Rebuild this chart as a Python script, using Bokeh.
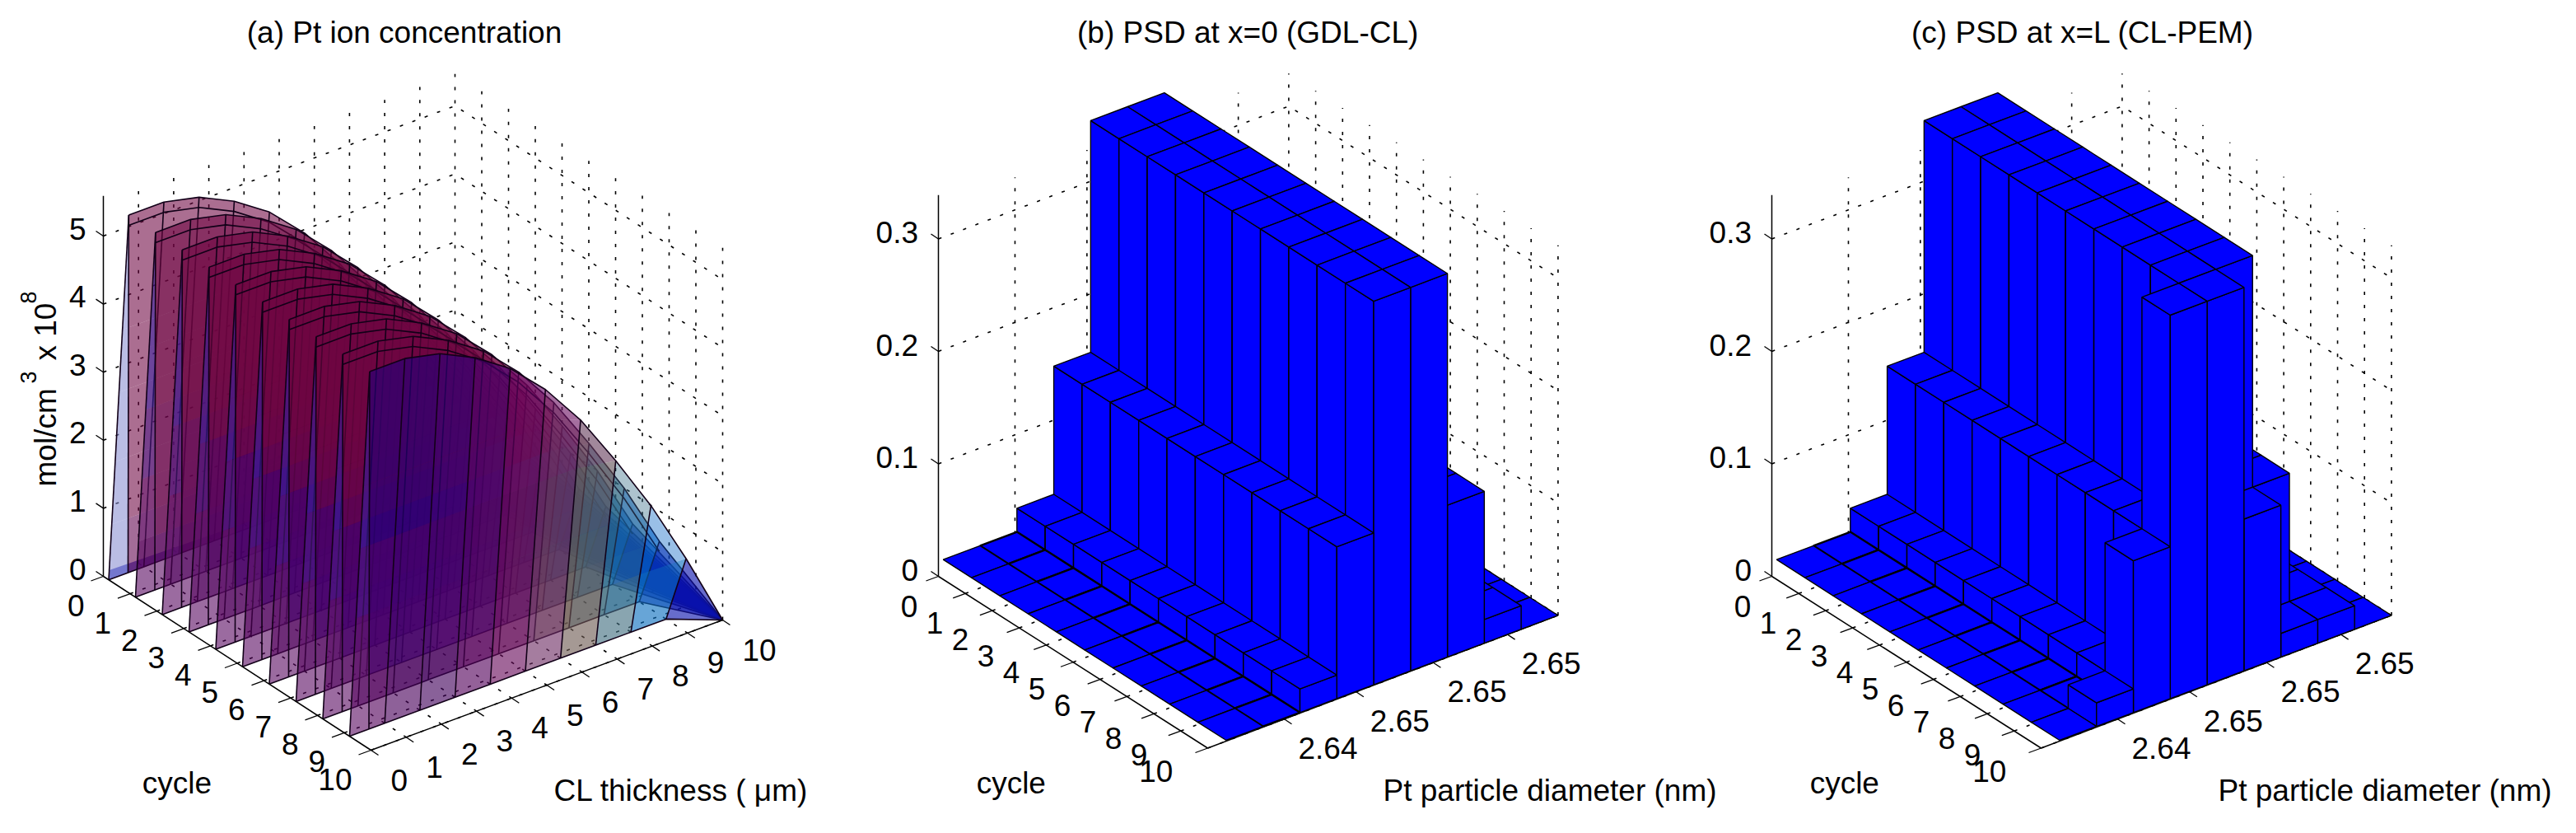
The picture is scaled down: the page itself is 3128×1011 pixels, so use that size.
from bokeh.plotting import figure
from bokeh.models import Range1d
from bokeh.core.properties import value
from bokeh.embed import file_html
from bokeh.resources import INLINE
import math

# ---------- data ----------
cycle_ticks = list(range(11))
thickness_ticks = list(range(11))
conc_ticks = [0, 1, 2, 3, 4, 5]
pt_ion_profile = [5.25, 5.25, 5.13, 4.88, 4.53, 4.03, 3.39, 2.60, 1.75, 0.78, 0.0]
sheet_cycles = [0.2, 1.2, 2.2, 3.2, 4.2, 5.2, 6.2, 7.2, 8.2, 9.2]

psd_ticks = [0, 0.1, 0.2, 0.3]
diam_tick_pos = [0.2186, 0.424, 0.644, 0.856]
diam_labels = ["2.64", "2.65", "2.65", "2.65"]
psd_row = [0, 0, 0.021, 0.135, 0.341, 0.341, 0.135, 0.021, 0]
psd_last_row_c = [0, 0.021, 0.135, 0.341, 0.341, 0.135, 0.021, 0.021, 0]
psd_b = [psd_row] * 10
psd_c = [psd_row] * 9 + [psd_last_row_c]

FONT = value("Liberation Sans")
FS = "37px"

p = figure(width=3112, height=995, x_range=Range1d(8, 3120), y_range=Range1d(1003, 8),
           output_backend="svg", toolbar_location=None,
           x_axis_location=None, y_axis_location=None, min_border=0)
p.grid.visible = False
p.outline_line_color = None


def label(xs, ys, texts, align="center", size=FS):
    p.text(x=xs, y=[y + 3 for y in ys], text=texts, text_font=FONT,
           text_font_size=size, text_color="black",
           text_align=align, text_baseline="middle")


def make_view(o, f, r, k, zs):
    """floor projection (c in 0..1, x in 0..1) bilinear between four corners, plus height scale"""
    def view(cf, xf, z=0.0):
        sx = (o[0] * (1 - cf) + f[0] * cf) * (1 - xf) + (k[0] * (1 - cf) + r[0] * cf) * xf
        sy = (o[1] * (1 - cf) + f[1] * cf) * (1 - xf) + (k[1] * (1 - cf) + r[1] * cf) * xf
        return sx, sy - z * zs
    return view


def line3(view, pts, **kw):
    xs, ys = zip(*[view(*q) for q in pts])
    p.line(list(xs), list(ys), **kw)


DOT = dict(line_color="black", line_width=1.6, line_dash="4 12")
AX = dict(line_color="black", line_width=1.5)


def walls(view, xf_list, cf_list, z_list, ztop):
    xs, ys = [], []
    def add(*pts):
        a = [view(*q) for q in pts]
        xs.append([q[0] for q in a]); ys.append([q[1] for q in a])
    for xf in xf_list:
        add((0, xf, 0), (0, xf, ztop))
        add((0, xf, 0), (1, xf, 0))
    for cf in cf_list:
        add((cf, 1, 0), (cf, 1, ztop))
        add((cf, 0, 0), (cf, 1, 0))
    for z in z_list:
        add((0, 0, z), (0, 1, z), (1, 1, z))
    p.multi_line(xs, ys, **DOT)


# ---------- panel (a) ----------
va = make_view((133, 707), (458, 918), (885, 760), (560, 549), 82.6)
walls(va, [t / 10 for t in thickness_ticks[1:]], [t / 10 for t in cycle_ticks[1:]], conc_ticks[1:], 5.47)

C_LOW = [(82, 0, 91), (73, 0, 91), (64, 0, 91), (82, 0, 91), (104, 9, 91),
         (109, 45, 100), (109, 91, 82), (64, 109, 127), (9, 109, 191), (9, 18, 173)]
C_MID = [(72, 0, 108), (66, 0, 110), (66, 0, 110), (70, 0, 105), (92, 0, 95),
         (100, 35, 95), (95, 85, 85), (45, 105, 130), (0, 95, 195), (5, 15, 175)]
C_TOP = [(110, 5, 65)] * 5 + [(125, 10, 60), (110, 60, 80), (60, 90, 125), (0, 90, 190), (5, 15, 175)]
C_FRONT = [(35, 0, 125), (35, 0, 125), (45, 0, 125), (70, 0, 115), (100, 0, 100),
           (110, 20, 100), (105, 60, 95), (95, 100, 150), (100, 110, 200), (100, 100, 200)]
RAMP_TOP = (55, 35, 165)
RAMP_LOW = (125, 10, 75)
RAMP_FIRST = (130, 135, 205)
LEVELS = [0, 0.8, 1.7, 2.7, 3.6, 9]
DELTA = 0.57
FOOT = 0.55


def mix(a, b, t):
    return tuple(int(round(a[j] * (1 - t) + b[j] * t)) for j in range(3))


def band_color(n, i, zm):
    top = C_FRONT[i] if n == 9 else C_TOP[i]
    if zm < 0.8:
        return C_LOW[i] if n > 0 else mix(C_LOW[i], top, 0.5)
    # the first sheets stay reddish all the way down, the later ones turn blue-violet
    mid = mix(top, C_MID[i], min(1.0, n / 4))
    if zm < 2.0:
        return mid
    return mix(mid, top, min(1, (zm - 2.0) / 1.2))


def edge_pt(b, t, z, lv):
    s = min(1.0, lv / z) if z > 0 else 0.0
    return b[0] + (t[0] - b[0]) * s, b[1] + (t[1] - b[1]) * s


# sliver at the foot of the first sheet
a_ = [va(0.02, 0), va(0.02, 0.32), va(0.02, 0.32, 0.1), va(0.02, 0, 0.14)]
p.patch([q[0] for q in a_], [q[1] for q in a_], fill_color=(50, 50, 190), fill_alpha=0.75, line_color=None)

for n, c in enumerate(sheet_cycles):
    cf = c / 10
    px, py, cols, alphas = [], [], [], []
    ex, ey = [], []
    for i in range(10):
        xa, xb = i, i + 1
        za, zb = pt_ion_profile[i], pt_ion_profile[i + 1]
        # the first panel stands on a foot set in from the start of the sheet
        ba = va(cf, (xa + (FOOT if i == 0 else 0)) / 10)
        ta = va(cf, (xa + DELTA) / 10, za)
        if i == 9:
            bb = tb = va(1, 1)
        else:
            bb = va(cf, xb / 10)
            tb = va(cf, (xb + DELTA) / 10, zb)
        for k in range(len(LEVELS) - 1):
            lo, hi = LEVELS[k], LEVELS[k + 1]
            if lo >= max(za, zb):
                continue
            q = [edge_pt(ba, ta, za, lo), edge_pt(bb, tb, zb, lo), edge_pt(bb, tb, zb, hi), edge_pt(ba, ta, za, hi)]
            px.append([v[0] for v in q]); py.append([v[1] for v in q])
            r, g, b_ = band_color(n, i, (lo + min(hi, max(za, zb))) / 2)
            cols.append(f"rgb({r},{g},{b_})")
            alpha = 0.58 if n < 9 else 0.62
            if n == 9 and i >= 7 and lo >= 0.8:
                alpha = 0.4
            alphas.append(alpha)
        ex.append([ba[0], ta[0]]); ey.append([ba[1], ta[1]])
    # ramp triangle at the start of the sheet, split in height
    s0 = va(cf, 0)
    s1 = va(cf, FOOT / 10)
    st = va(cf, DELTA / 10, pt_ion_profile[0])
    for k in range(len(LEVELS) - 1):
        lo, hi = LEVELS[k], min(LEVELS[k + 1], pt_ion_profile[0])
        q = [edge_pt(s0, st, pt_ion_profile[0], lo), edge_pt(s1, st, pt_ion_profile[0], lo),
             edge_pt(s1, st, pt_ion_profile[0], hi), edge_pt(s0, st, pt_ion_profile[0], hi)]
        px.append([v[0] for v in q]); py.append([v[1] for v in q])
        if n == 0:
            col = RAMP_FIRST
        elif lo == 0:
            col = C_LOW[0]
        else:
            col = mix(RAMP_LOW, RAMP_TOP, min(1.0, (lo + hi) / 2 / 3.2))
        cols.append(f"rgb({col[0]},{col[1]},{col[2]})")
        alphas.append(0.58 if (n > 0 and lo == 0) else 0.55)
    p.patches(px, py, fill_color=cols, fill_alpha=alphas, line_color=None)
    # outline of the sheet
    base = [va(cf, t / 10) for t in thickness_ticks[:10]] + [va(1, 1)]
    top = [va(cf, (t + DELTA) / 10, pt_ion_profile[t]) for t in thickness_ticks[:10]] + [va(1, 1)]
    ex.append([s0[0], st[0]]); ey.append([s0[1], st[1]])
    ex.append([q[0] for q in base]); ey.append([q[1] for q in base])
    ex.append([q[0] for q in top]); ey.append([q[1] for q in top])
    if n < 9:
        inner = [va(cf, (t + DELTA) / 10, pt_ion_profile[t] - 0.15) for t in thickness_ticks[:10]]
        ex.append([q[0] for q in inner]); ey.append([q[1] for q in inner])
    p.multi_line(ex, ey, line_color="#120018", line_width=1.6)


def axes(view, ztop, z_ticks, c_fracs, x_fracs):
    line3(view, [(0, 0, 0), (0, 0, ztop)], **AX)
    line3(view, [(0, 0, 0), (1, 0, 0)], **AX)
    line3(view, [(1, 0, 0), (1, 1, 0)], **AX)
    xs, ys = [], []
    def seg(a, b):
        xs.append([a[0], b[0]]); ys.append([a[1], b[1]])
    for z in z_ticks:
        a = view(0, 0, z)
        seg(a, (a[0] - 9, a[1] - 6))
    for cf in c_fracs:
        a = view(cf, 0)
        seg(a, (a[0] - 15, a[1] + 5.5))
    for xf in x_fracs:
        a = view(1, xf)
        seg(a, (a[0] + 9, a[1] + 6))
    p.multi_line(xs, ys, line_color="black", line_width=1.3)


axes(va, 5.59, conc_ticks, [t / 10 for t in cycle_ticks], [t / 10 for t in thickness_ticks])

label([112] * 6, [va(0, 0, z)[1] - 12 for z in conc_ticks], [str(z) for z in conc_ticks], "right")
label([va(t / 10, 0)[0] - 23 for t in cycle_ticks], [va(t / 10, 0)[1] + 32 for t in cycle_ticks],
      [str(t) for t in cycle_ticks], "right")
label([va(1, t / 10)[0] + 24 for t in thickness_ticks], [va(1, t / 10)[1] + 33 for t in thickness_ticks],
      [str(t) for t in thickness_ticks], "left")
label([498.5], [44], ["(a) Pt ion concentration"])
label([222.4], [955], ["cycle"])
label([680], [964], ["CL thickness ( \u03bcm)"], "left")
# rotated axis title with its raised exponents
p.text(x=[62.7, 62.7], y=[598, 445], text=["mol/cm", "x 10"], text_font=FONT, text_font_size=FS,
       text_align="left", text_baseline="alphabetic", angle=math.pi / 2)
p.text(x=[42, 42], y=[473, 376], text=["3", "8"], text_font=FONT, text_font_size="27px",
       text_align="left", text_baseline="alphabetic", angle=math.pi / 2)


# ---------- panels (b) and (c) ----------
def psd_panel(dx, rows, title, title_x, xlabel_x):
    o = (147 + dx, 707); f = (474 + dx, 915.5); r = (899.4 + dx, 754.4)
    k = (o[0] + r[0] - f[0], o[1] + r[1] - f[1])
    v = make_view(o, f, r, k, 1365)
    walls(v, diam_tick_pos + [1.0], [t / 10 for t in cycle_ticks[1:]], psd_ticks[1:], 0.329)
    # plate of the bars
    A = (152.8 + dx, 686.7); B = (496.5 + dx, 906.0); C = (899.4 + dx, 754.4)
    D = (A[0] + C[0] - B[0], A[1] + C[1] - B[1])
    vb = make_view(A, B, C, D, 1365)
    nr = len(rows); nc = len(rows[0])
    xs, ys, widths = [], [], []
    def face(w, *pts):
        a = [vb(*q) for q in pts]
        xs.append([q[0] for q in a]); ys.append([q[1] for q in a]); widths.append(w)
    for i in range(nr):
        c0, c1 = i / nr, (i + 1) / nr
        for j in range(nc - 1, -1, -1):
            x0, x1 = j / nc, (j + 1) / nc
            h = rows[i][j]
            if h > 0:
                face(1.4, (c0, x0, 0), (c1, x0, 0), (c1, x0, h), (c0, x0, h))
                face(1.4, (c1, x0, 0), (c1, x1, 0), (c1, x1, h), (c1, x0, h))
            # the zero cell next to the first step shows heavier rules in the reference
            face(2.4 if (h == 0 and j == 1) else 1.4, (c0, x0, h), (c1, x0, h), (c1, x1, h), (c0, x1, h))
    axes(v, 0.339, psd_ticks, [t / 10 for t in cycle_ticks], diam_tick_pos)
    p.patches(xs, ys, fill_color=(0, 0, 255), line_color="black", line_width=widths)
    label([122.5 + dx] * 4, [v(0, 0, z)[1] - 11 for z in psd_ticks],
          [f"{z:g}" for z in psd_ticks], "right")
    label([121.8 + dx + 31 * t for t in cycle_ticks], [740 + 20 * t for t in cycle_ticks],
          [str(t) for t in cycle_ticks], "right")
    label([v(1, t)[0] + 53 for t in diam_tick_pos], [v(1, t)[1] + 32 for t in diam_tick_pos], diam_labels)
    label([title_x], [44], [title])
    label([235.3 + dx], [955], ["cycle"])
    label([xlabel_x], [964], ["Pt particle diameter (nm)"], "left")


psd_panel(1000, psd_b, "(b) PSD at x=0 (GDL-CL)", 1522.7, 1687)
psd_panel(2012, psd_c, "(c) PSD at x=L (CL-PEM)", 2536.7, 2701)

open("out.html", "w").write(file_html(p, INLINE))
